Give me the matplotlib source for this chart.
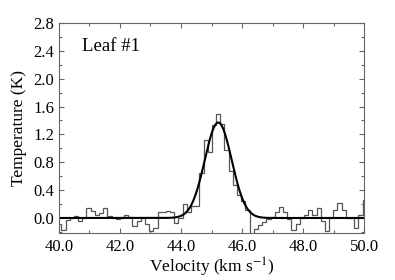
"""
Spectrum of Leaf #1 with a Gaussian fit.
"""

import numpy as np
import matplotlib
matplotlib.use("Agg")
import matplotlib.pyplot as plt
from matplotlib.ticker import MultipleLocator, FormatStrFormatter


# channel grid (km/s)
channel_start = 39.945
channel_width = 0.137

# observed brightness temperature per channel (K)
temperature = [
    -0.08, -0.17, -0.03, 0.00, 0.03, -0.04, 0.00, 0.15, 0.10, 0.04,
    0.07, 0.15, 0.03, 0.00, -0.01, 0.00, 0.05, 0.01, -0.12, -0.05,
    0.00, -0.09, -0.19, -0.14, 0.09, 0.08, 0.10, 0.09, -0.07, 0.00,
    0.20, 0.09, 0.17, 0.17, 0.64, 1.12, 0.95, 1.34, 1.50, 1.35,
    0.97, 0.68, 0.47, 0.33, 0.24, 0.11, -0.35, -0.16, -0.10, -0.06,
    -0.02, 0.02, 0.08, 0.16, 0.08, -0.02, -0.17, -0.08, 0.00, 0.04,
    0.12, 0.04, 0.14, -0.05, -0.18, 0.00, 0.11, 0.21, 0.11, 0.00,
    0.00, -0.15, 0.04, 0.26
]

# gaussian fit parameters
fit_peak = 1.37
fit_center = 45.22
fit_sigma = 0.442

x_ticks = [40.0, 42.0, 44.0, 46.0, 48.0, 50.0]
y_ticks = [0.0, 0.4, 0.8, 1.2, 1.6, 2.0, 2.4, 2.8]


def create_spectrum_chart(values):
    """
    Draw stepped spectrum and fit.
    """

    plt.rcParams["font.family"] = ["Liberation Serif", "DejaVu Serif"]
    plt.rcParams["mathtext.fontset"] = "stix"

    fig = plt.figure(figsize=(3.95, 2.8), dpi=100)
    ax = fig.add_axes([0.149, 0.168, 0.773, 0.750])

    edges = channel_start + channel_width * np.arange(len(values) + 1)
    ax.stairs(values, edges, baseline=None, color="#555555", linewidth=0.9)

    v = np.linspace(x_ticks[0], x_ticks[-1], 600)
    fit = fit_peak * np.exp(-(v - fit_center) ** 2 / (2 * fit_sigma ** 2))
    ax.plot(v, fit, color="black", linewidth=1.5)

    ax.set_xlim(x_ticks[0], x_ticks[-1])
    ax.set_ylim(-0.215, y_ticks[-1])

    ax.set_xticks(x_ticks)
    ax.set_yticks(y_ticks)
    ax.xaxis.set_minor_locator(MultipleLocator(1.0))
    ax.yaxis.set_minor_locator(MultipleLocator(0.2))
    ax.xaxis.set_major_formatter(FormatStrFormatter("%.1f"))
    ax.yaxis.set_major_formatter(FormatStrFormatter("%.1f"))

    ax.tick_params(which="both", direction="in", top=True, right=True,
                   color="#666666", labelsize=12)
    ax.tick_params(which="major", length=3.5, width=0.8)
    ax.tick_params(which="minor", length=2.0, width=0.8)
    ax.tick_params(axis="x", pad=4)

    for spine in ax.spines.values():
        spine.set_color("#666666")
        spine.set_linewidth(0.8)

    ax.set_xlabel(r"Velocity (km s$^{-1}$)", fontsize=12.5, labelpad=1)
    ax.set_ylabel("Temperature (K)", fontsize=12.5, labelpad=4)

    ax.text(0.075, 0.868, "Leaf #1", transform=ax.transAxes,
            fontsize=13.5, ha="left", va="baseline")

    fig.savefig("out.png", dpi=100)


if __name__ == "__main__":

    create_spectrum_chart(temperature)
